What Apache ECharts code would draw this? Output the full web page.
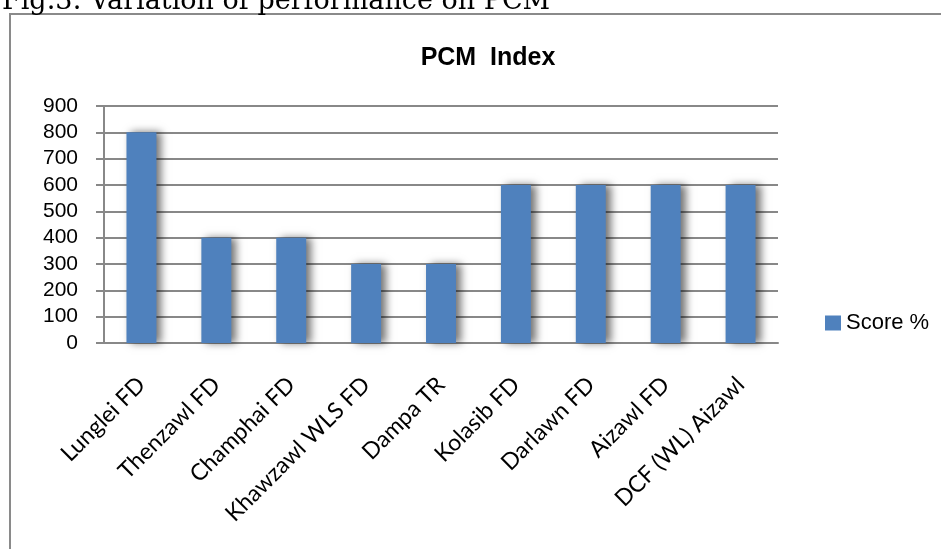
<!DOCTYPE html>
<html>
<head>
<meta charset="utf-8">
<script src="https://cdn.jsdelivr.net/npm/echarts@6/dist/echarts.min.js"></script>
<style>
  html, body { margin: 0; padding: 0; background: #fff; }
  #chart { width: 941px; height: 549px; }
</style>
</head>
<body>
<div id="chart"></div>
<script>
// data
const categories = ['Lunglei FD', 'Thenzawl FD', 'Champhai FD', 'Khawzawl WLS FD', 'Dampa TR',
  'Kolasib FD', 'Darlawn FD', 'Aizawl FD', 'DCF (WL) Aizawl']
const scores = [800, 400, 400, 300, 300, 600, 600, 600, 600]
const seriesName = 'Score %'
const captionText = 'Fig.3: Variation of performance on PCM'

const chart = echarts.init(document.getElementById('chart'))

chart.setOption({
  animation: false,
  title: [
    {
      text: captionText,
      left: -3,
      top: -17,
      textStyle: { fontFamily: 'DejaVu Serif', fontSize: 27, fontWeight: 'normal', color: '#000' }
    },
    {
      text: 'PCM  Index',
      left: 483,
      top: 41,
      textAlign: 'center',
      textStyle: { fontFamily: 'Liberation Sans', fontSize: 25, fontWeight: 'bold', color: '#000' }
    }
  ],
  graphic: [
    {
      type: 'rect',
      shape: { x: 10, y: 14, width: 960, height: 560 },
      style: { fill: 'none', stroke: '#8a8a8a', lineWidth: 2 }
    }
  ],
  legend: {
    left: 820,
    top: 307,
    itemWidth: 16,
    itemHeight: 15,
    itemGap: 6,
    icon: 'rect',
    textStyle: { fontFamily: 'Liberation Sans', fontSize: 22, color: '#000' },
    data: [seriesName]
  },
  grid: {
    left: 104,
    right: 163,
    top: 106,
    bottom: 206
  },
  xAxis: {
    type: 'category',
    data: categories,
    axisLine: { lineStyle: { color: '#888', width: 2 } },
    axisTick: { length: 7, lineStyle: { color: '#888', width: 2 } },
    axisLabel: {
      rotate: 45,
      interval: 0,
      margin: 38,
      fontFamily: 'Lato',
      fontSize: 23,
      color: '#000'
    }
  },
  yAxis: {
    type: 'value',
    min: 0,
    max: 900,
    interval: 100,
    axisLine: { show: true, lineStyle: { color: '#888', width: 2 } },
    axisTick: { show: true, length: 8, lineStyle: { color: '#888', width: 2 } },
    splitLine: { lineStyle: { color: '#888', width: 2 } },
    axisLabel: {
      margin: 26,
      fontFamily: 'Liberation Sans',
      fontSize: 21,
      color: '#000'
    }
  },
  series: [
    {
      name: seriesName,
      type: 'bar',
      data: scores,
      barWidth: '40%',
      itemStyle: {
        color: '#4f81bd',
        shadowColor: 'rgba(0,0,0,0.55)',
        shadowBlur: 8,
        shadowOffsetX: 5,
        shadowOffsetY: 0
      }
    }
  ]
})
</script>
</body>
</html>
